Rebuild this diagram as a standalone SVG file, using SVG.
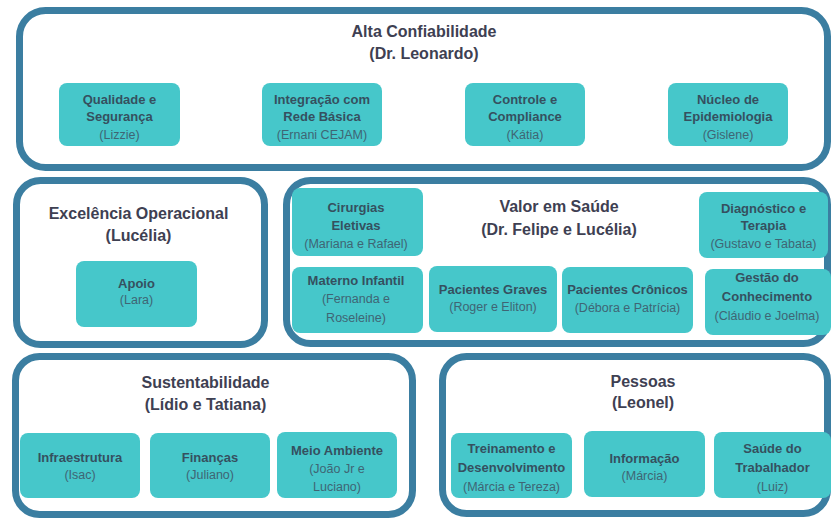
<svg xmlns="http://www.w3.org/2000/svg" width="832" height="519" viewBox="0 0 832 519">
<style>
.grp{fill:#ffffff;stroke:#3b7ea1;stroke-width:7}
.nd{fill:#46c7ca}
.t{font-family:"Liberation Sans",Arial,sans-serif;font-size:16px;font-weight:bold;fill:#3e4052;text-anchor:middle}
.h{font-family:"Liberation Sans",Arial,sans-serif;font-size:13px;font-weight:bold;fill:#35505f;text-anchor:middle}
.n{font-family:"Liberation Sans",Arial,sans-serif;font-size:12.5px;fill:#3f6574;text-anchor:middle}
</style>
<rect width="832" height="519" fill="#ffffff"/>
<g id="alta">
<rect class="grp" x="19.5" y="10.5" width="808" height="157" rx="26"/>
<text class="t" x="424" y="37">Alta Confiabilidade</text>
<text class="t" x="424" y="59">(Dr. Leonardo)</text>
</g>
<g id="qualidade"><rect class="nd" x="59" y="83" width="121" height="63" rx="8"/>
<text class="h" x="119.5" y="104">Qualidade e</text><text class="h" x="119.5" y="121">Segurança</text><text class="n" x="119.5" y="139">(Lizzie)</text></g>
<g id="integracao"><rect class="nd" x="262" y="83" width="120" height="63" rx="8"/>
<text class="h" x="322" y="104">Integração com</text><text class="h" x="322" y="121">Rede Básica</text><text class="n" x="322" y="139">(Ernani CEJAM)</text></g>
<g id="controle"><rect class="nd" x="465" y="83" width="120" height="63" rx="8"/>
<text class="h" x="525" y="104">Controle e</text><text class="h" x="525" y="121">Compliance</text><text class="n" x="525" y="139">(Kátia)</text></g>
<g id="nucleo"><rect class="nd" x="668" y="83" width="120" height="63" rx="8"/>
<text class="h" x="728" y="104">Núcleo de</text><text class="h" x="728" y="121">Epidemiologia</text><text class="n" x="728" y="139">(Gislene)</text></g>

<g id="excelencia">
<rect class="grp" x="16.5" y="180.5" width="248" height="164" rx="24"/>
<text class="t" x="138.5" y="219">Excelência Operacional</text>
<text class="t" x="138.5" y="241">(Lucélia)</text>
</g>
<g id="apoio"><rect class="nd" x="76" y="261" width="121" height="66" rx="8"/>
<text class="h" x="136.5" y="288">Apoio</text><text class="n" x="136.5" y="304">(Lara)</text></g>

<g id="valor">
<rect class="grp" x="286.5" y="180.5" width="541" height="163" rx="24"/>
<text class="t" x="559" y="212">Valor em Saúde</text>
<text class="t" x="559" y="235">(Dr. Felipe e Lucélia)</text>
</g>
<g id="cirurgias"><rect class="nd" x="292" y="188" width="131" height="68" rx="8"/>
<text class="h" x="356" y="212">Cirurgias</text><text class="h" x="356" y="230">Eletivas</text><text class="n" x="356" y="248">(Mariana e Rafael)</text></g>
<g id="materno"><rect class="nd" x="292" y="267" width="131" height="66" rx="8"/>
<text class="h" x="356" y="285">Materno Infantil</text><text class="n" x="356" y="303">(Fernanda e</text><text class="n" x="356" y="322">Roseleine)</text></g>
<g id="graves"><rect class="nd" x="429" y="266" width="128" height="66" rx="8"/>
<text class="h" x="493" y="294">Pacientes Graves</text><text class="n" x="493" y="311">(Roger e Eliton)</text></g>
<g id="cronicos"><rect class="nd" x="562" y="267" width="131" height="66" rx="8"/>
<text class="h" x="627.5" y="294">Pacientes Crônicos</text><text class="n" x="627.5" y="312">(Débora e Patrícia)</text></g>
<g id="diagnostico"><rect class="nd" x="699" y="192" width="129" height="66" rx="8"/>
<text class="h" x="763.5" y="213">Diagnóstico e</text><text class="h" x="763.5" y="230">Terapia</text><text class="n" x="763.5" y="248">(Gustavo e Tabata)</text></g>
<g id="gestao"><rect class="nd" x="705" y="269" width="126" height="66" rx="8"/>
<text class="h" x="767" y="282">Gestão do</text><text class="h" x="767" y="301">Conhecimento</text><text class="n" x="767" y="320">(Cláudio e Joelma)</text></g>

<g id="sustentabilidade">
<rect class="grp" x="15.5" y="356.5" width="397" height="158" rx="24"/>
<text class="t" x="205.5" y="388">Sustentabilidade</text>
<text class="t" x="205.5" y="410">(Lídio e Tatiana)</text>
</g>
<g id="infra"><rect class="nd" x="20" y="433" width="120" height="65" rx="8"/>
<text class="h" x="80" y="462">Infraestrutura</text><text class="n" x="80" y="479">(Isac)</text></g>
<g id="financas"><rect class="nd" x="150" y="433" width="120" height="65" rx="8"/>
<text class="h" x="210" y="462">Finanças</text><text class="n" x="210" y="479">(Juliano)</text></g>
<g id="meio"><rect class="nd" x="277" y="432" width="120" height="66" rx="8"/>
<text class="h" x="337" y="455">Meio Ambiente</text><text class="n" x="337" y="473">(João Jr e</text><text class="n" x="337" y="491">Luciano)</text></g>

<g id="pessoas">
<rect class="grp" x="442.5" y="356.5" width="385" height="157" rx="24"/>
<text class="t" x="643" y="387">Pessoas</text>
<text class="t" x="643" y="408">(Leonel)</text>
</g>
<g id="treinamento"><rect class="nd" x="451" y="433" width="121" height="65" rx="8"/>
<text class="h" x="511.5" y="453">Treinamento e</text><text class="h" x="511.5" y="472">Desenvolvimento</text><text class="n" x="511.5" y="491">(Márcia e Tereza)</text></g>
<g id="informacao"><rect class="nd" x="584" y="431" width="121" height="66" rx="8"/>
<text class="h" x="644.5" y="463">Informação</text><text class="n" x="644.5" y="480">(Márcia)</text></g>
<g id="saude"><rect class="nd" x="714" y="432" width="117" height="66" rx="8"/>
<text class="h" x="772.5" y="453">Saúde do</text><text class="h" x="772.5" y="472">Trabalhador</text><text class="n" x="772.5" y="491">(Luiz)</text></g>
<g id="connectors"></g>
</svg>
